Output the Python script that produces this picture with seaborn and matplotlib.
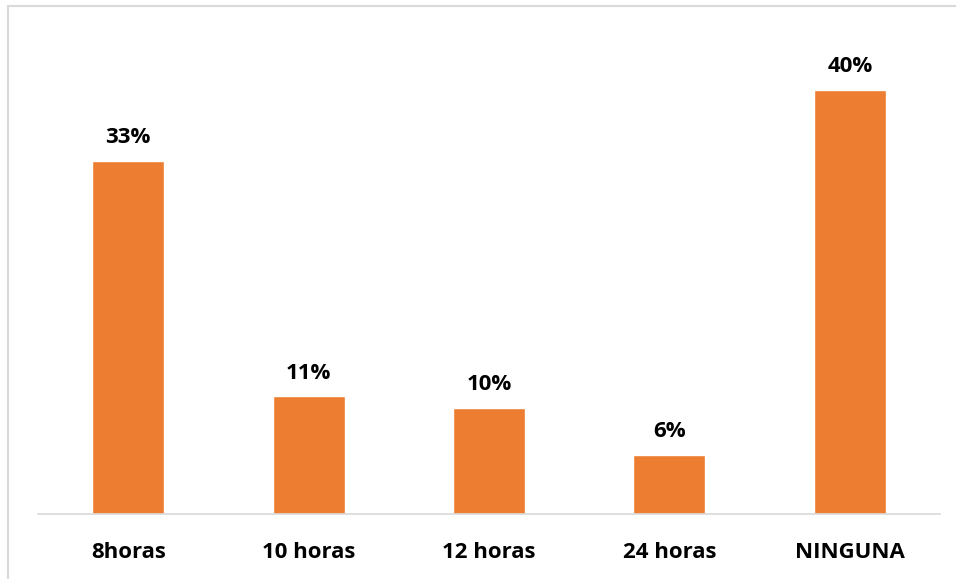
import matplotlib
matplotlib.use('Agg')
import matplotlib.pyplot as plt
import matplotlib.patches as mpatches
import seaborn as sns
import pandas as pd

# --- Data ---
categories = ['8horas', '10 horas', '12 horas', '24 horas', 'NINGUNA']
values = [33.3, 11.1, 10.0, 5.6, 40.0]
labels = ['33%', '11%', '10%', '6%', '40%']

df = pd.DataFrame({'Categoria': categories, 'Porcentaje': values})

sns.set_theme(style='white')
plt.rcParams['font.family'] = ['Open Sans', 'DejaVu Sans']

fig = plt.figure(figsize=(9.56, 5.79), dpi=100)
ax = fig.add_axes([38 / 956, 65 / 579, 902 / 956, 475 / 579])

sns.barplot(data=df, x='Categoria', y='Porcentaje', color='#ED7D31',
            saturation=1, width=0.4, ax=ax)

for bar, lab in zip(ax.patches, labels):
    ax.annotate(lab, (bar.get_x() + bar.get_width() / 2, bar.get_height()),
                xytext=(0, 9), textcoords='offset points',
                ha='center', va='bottom', fontsize=16, fontweight='bold',
                color='black')

ax.set_xlim(-0.5, 4.5)
ax.set_ylim(0, 44.8)
ax.set_xlabel('')
ax.set_ylabel('')
ax.set_yticks([])
ax.tick_params(axis='x', length=0, pad=20, labelsize=16)
for t in ax.get_xticklabels():
    t.set_fontweight('bold')
    t.set_color('black')

for side in ['top', 'right', 'left']:
    ax.spines[side].set_visible(False)
ax.spines['bottom'].set_color('#d9d9d9')
ax.spines['bottom'].set_linewidth(1.2)

# light chart-area frame
frame = mpatches.Rectangle((8 / 956, -0.1), 1.2, 1.1 - 6 / 579,
                           transform=fig.transFigure, fill=False,
                           edgecolor='#d9d9d9', linewidth=1.5)
fig.patches.append(frame)

fig.savefig('out.png', dpi=100)
